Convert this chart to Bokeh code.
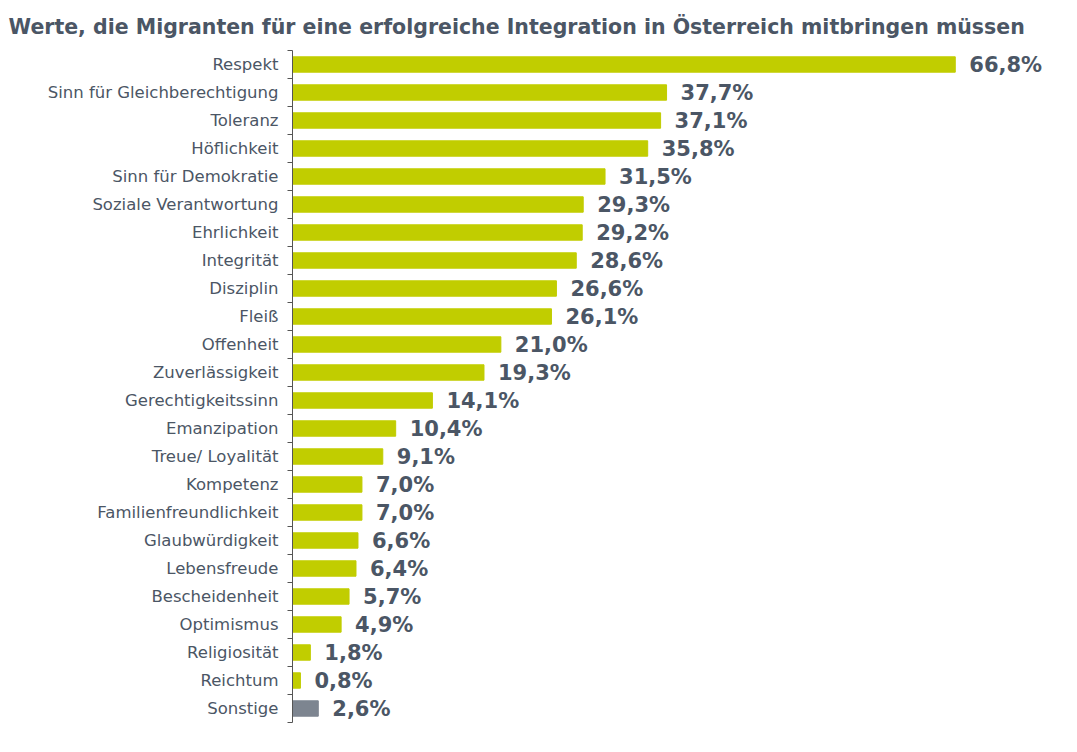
from bokeh.plotting import figure
from bokeh.models import FixedTicker, ColumnDataSource, LabelSet
from bokeh.core.properties import value
from bokeh.embed import file_html
from bokeh.resources import INLINE

title = "Werte, die Migranten für eine erfolgreiche Integration in Österreich mitbringen müssen"
categories = ["Respekt", "Sinn für Gleichberechtigung", "Toleranz", "Höflichkeit",
              "Sinn für Demokratie", "Soziale Verantwortung", "Ehrlichkeit", "Integrität",
              "Disziplin", "Fleiß", "Offenheit", "Zuverlässigkeit", "Gerechtigkeitssinn",
              "Emanzipation", "Treue/ Loyalität", "Kompetenz", "Familienfreundlichkeit",
              "Glaubwürdigkeit", "Lebensfreude", "Bescheidenheit", "Optimismus",
              "Religiosität", "Reichtum", "Sonstige"]
values = [66.8, 37.7, 37.1, 35.8, 31.5, 29.3, 29.2, 28.6, 26.6, 26.1, 21.0, 19.3, 14.1,
          10.4, 9.1, 7.0, 7.0, 6.6, 6.4, 5.7, 4.9, 1.8, 0.8, 2.6]

GREEN = "#c1cd00"
GRAY = "#7d8590"
TEXT = "#4b5665"
FONT = "DejaVu Sans"

n = len(categories)
ypos = [n - i - 0.5 for i in range(n)]
colors = [GRAY if c == "Sonstige" else GREEN for c in categories]
labels = [f"{v:.1f}".replace(".", ",") + "%" for v in values]

src = ColumnDataSource(dict(y=ypos, v=values, c=colors, lab=labels, cat=categories))

p = figure(width=1060, height=736, output_backend="svg", toolbar_location=None,
           x_range=(0, 76.6), y_range=(0, n), min_border_left=292, min_border_right=8,
           min_border_bottom=14, min_border_top=0)
p.title.text = title
p.title.text_font = FONT
p.title.text_font_size = "20.5px"
p.title.text_font_style = "bold"
p.title.text_color = TEXT
p.title.offset = -284
p.title.standoff = 24

p.hbar(y="y", right="v", left=0, height=0.55, color="c", source=src)

p.add_layout(LabelSet(x="v", y="y", text="lab", source=src, x_offset=14, text_baseline="middle",
                      text_font=value(FONT), text_font_size="21px", text_font_style="bold",
                      text_color=TEXT))

p.xaxis.visible = False
p.xgrid.visible = False
p.ygrid.visible = False
p.outline_line_color = None

ya = p.yaxis[0]
ya.ticker = FixedTicker(ticks=ypos, minor_ticks=list(range(n + 1)))
ya.major_label_overrides = {y: c for y, c in zip(ypos, categories)}
ya.major_tick_line_color = None
ya.minor_tick_in = 0
ya.minor_tick_out = 5
ya.minor_tick_line_color = "#555555"
ya.axis_line_color = "#555555"
ya.major_label_text_font = FONT
ya.major_label_text_font_size = "16.5px"
ya.major_label_text_color = TEXT
ya.major_label_standoff = 8

open("out.html", "w").write(file_html(p, INLINE))
